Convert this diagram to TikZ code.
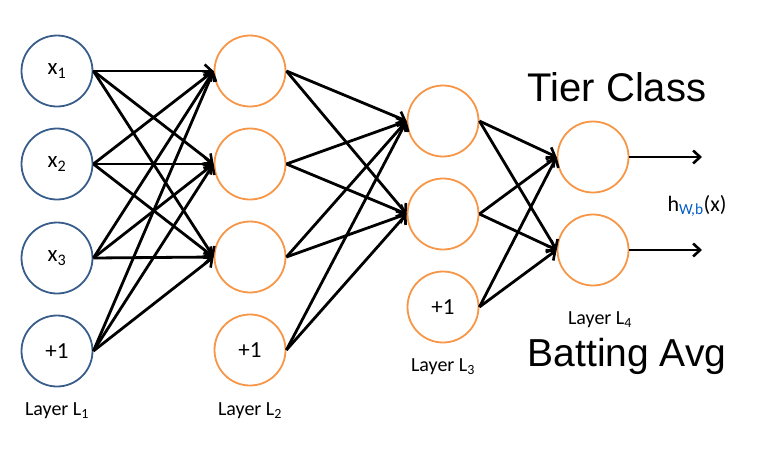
\documentclass[tikz,border=0pt]{standalone}
\usepackage{fontspec}
\setmainfont{Carlito}
\newfontfamily\arialfont{Liberation Sans}
\usetikzlibrary{arrows.meta}
\definecolor{inblue}{RGB}{56,93,138}
\definecolor{hidorange}{RGB}{247,150,70}
\definecolor{subblue}{RGB}{0,90,200}
\tikzset{
  unit/.style={circle,draw,line width=1.8pt,minimum size=71pt,inner sep=0pt,font=\fontsize{23}{25}\selectfont},
  inunit/.style={unit,draw=inblue},
  hidunit/.style={unit,draw=hidorange},
  layerlab/.style={font=\fontsize{20}{22}\selectfont},
  wire/.style={line width=2.8pt,-{Straight Barb[length=7pt,width=13pt,line width=2.6pt]}}
}
\begin{document}
\begin{tikzpicture}[x=1pt,y=-1pt]
    \useasboundingbox (0,0) rectangle (766,472);
    % input layer
    \node[inunit] (a1) at (57,71) {x\textsubscript{1}};
    \node[inunit] (a2) at (57,164) {x\textsubscript{2}};
    \node[inunit] (a3) at (57,258) {x\textsubscript{3}};
    \node[inunit] (a4) at (57,351) {+1};
    % hidden layer 2
    \node[hidunit] (b1) at (250,71) {};
    \node[hidunit] (b2) at (250,164) {};
    \node[hidunit] (b3) at (250,257) {};
    \node[hidunit] (b4) at (250,350) {+1};
    % hidden layer 3
    \node[hidunit] (c1) at (443,121) {};
    \node[hidunit] (c2) at (443,214) {};
    \node[hidunit] (c3) at (443,307) {+1};
    % output layer
    \node[hidunit] (d1) at (593,157) {};
    \node[hidunit] (d2) at (593,250) {};
    \coordinate (o1) at (702,157);
    \coordinate (o2) at (702,250);
    % connections
    \foreach \i in {1,...,4} \foreach \j in {1,2,3} \draw[wire] (a\i.east) -- (b\j.west);
    \foreach \i in {1,...,4} \foreach \j in {1,2} \draw[wire] (b\i.east) -- (c\j.west);
    \foreach \i in {1,2,3} \foreach \j in {1,2} \draw[wire] (c\i.east) -- (d\j.west);
    \draw[wire] (d1.east) -- (o1);
    \draw[wire] (d2.east) -- (o2);
    % labels
    \node[layerlab] (l1) at (57,411) {Layer L\textsubscript{1}};
    \node[layerlab] (l2) at (250,411) {Layer L\textsubscript{2}};
    \node[layerlab] (l3) at (443,367) {Layer L\textsubscript{3}};
    \node[layerlab] (l4) at (600,320) {Layer L\textsubscript{4}};
    \node[font=\fontsize{22}{24}\selectfont] (h) at (697,206) {h\textsubscript{\color{subblue}W,b}(x)};
    \node[font=\arialfont\fontsize{40}{42}\selectfont] (tier) at (617,87) {Tier Class};
    \node[font=\arialfont\fontsize{39}{41}\selectfont] (bat) at (627,356) {Batting Avg};
\end{tikzpicture}
\end{document}
